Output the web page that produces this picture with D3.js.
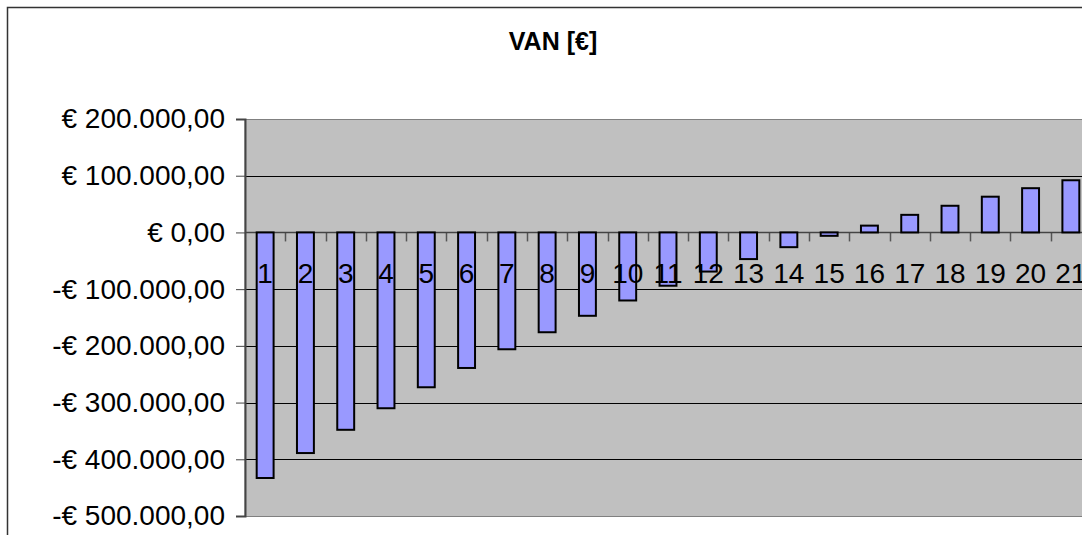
<!DOCTYPE html>
<html>
<head>
<meta charset="utf-8">
<script src="https://cdn.jsdelivr.net/npm/d3@7"></script>
<style>
  body { margin: 0; background: #fff; }
  svg { display: block; }
</style>
</head>
<body>
<script>
var width = 1082;
var height = 535;

// data
var years = ["1","2","3","4","5","6","7","8","9","10","11","12","13","14","15","16","17","18","19","20","21"];
var van = [-433000, -389000, -348000, -310000, -273000, -239000, -206000, -176000, -147000, -120000,
           -94000, -69000, -47000, -26000, -6000, 12000, 31000, 47000, 63000, 78000, 92000];
var yTicks = [200000, 100000, 0, -100000, -200000, -300000, -400000, -500000];

var plot = {left: 245, top: 119, right: 1091, bottom: 516};

var svg = d3.select("body").append("svg")
    .attr("width", width)
    .attr("height", height);

// chart area border (cut off on right and bottom)
svg.append("rect")
    .attr("x", 7.5).attr("y", 7.5)
    .attr("width", 1200).attr("height", 700)
    .attr("fill", "#fff")
    .attr("stroke", "#333")
    .attr("stroke-width", 1.5);

svg.append("text")
    .attr("x", 553)
    .attr("y", 50)
    .attr("text-anchor", "middle")
    .style("font-family", "'Liberation Sans', Arial, sans-serif")
    .style("font-weight", "bold")
    .style("font-size", "25px")
    .text("VAN [€]");

var x = d3.scaleBand()
    .domain(years)
    .range([plot.left, plot.right])
    .paddingInner(0.58)
    .paddingOuter(0.29);

var xTicks = d3.scaleBand()
    .domain(years)
    .range([plot.left, plot.right]);

var y = d3.scaleLinear()
    .domain([-500000, 200000])
    .range([plot.bottom, plot.top]);

function euro(v) {
  var s = d3.format(",.2f")(Math.abs(v)).replace(/,/g, "X").replace(".", ",").replace(/X/g, ".");
  return (v < 0 ? "-€ " : "€ ") + s;
}

// plot area
svg.append("rect")
    .attr("x", plot.left).attr("y", plot.top + 0.5)
    .attr("width", plot.right - plot.left + 20)
    .attr("height", plot.bottom - plot.top)
    .attr("fill", "#c0c0c0")
    .attr("stroke", "#808080")
    .attr("stroke-width", 1);

// gridlines
svg.append("g")
  .selectAll("line")
  .data(yTicks.slice(1, -1))
  .join("line")
    .attr("x1", plot.left).attr("x2", width)
    .attr("y1", function(d) { return Math.round(y(d)) + 0.5; })
    .attr("y2", function(d) { return Math.round(y(d)) + 0.5; })
    .attr("stroke", "#000")
    .attr("stroke-width", 1);

// y axis
var yAxis = d3.axisLeft(y)
    .tickValues(yTicks)
    .tickSize(9)
    .tickPadding(11)
    .tickFormat(euro);

var gy = svg.append("g")
    .attr("transform", "translate(" + plot.left + ",0)")
    .call(yAxis);
gy.select(".domain").attr("stroke", "#444").attr("stroke-width", 2);
gy.selectAll(".tick line").attr("stroke", "#444");
gy.selectAll(".tick text")
    .attr("fill", "#000")
    .style("font-family", "'Liberation Sans', Arial, sans-serif")
    .style("font-size", "28px");

// x category ticks on zero line
svg.append("g")
  .selectAll("line")
  .data(years.slice(1))
  .join("line")
    .attr("x1", function(d) { return Math.round(xTicks(d)) + 0.5; })
    .attr("x2", function(d) { return Math.round(xTicks(d)) + 0.5; })
    .attr("y1", y(0))
    .attr("y2", y(0) + 9)
    .attr("stroke", "#555")
    .attr("stroke-width", 1.5);

svg.append("line")
    .attr("x1", plot.left).attr("x2", width)
    .attr("y1", y(0)).attr("y2", y(0))
    .attr("stroke", "#444")
    .attr("stroke-width", 1.5);

// bars
svg.append("g")
  .selectAll("rect")
  .data(van)
  .join("rect")
    .attr("x", function(d, i) { return x(years[i]); })
    .attr("width", x.bandwidth())
    .attr("y", function(d) { return y(Math.max(0, d)); })
    .attr("height", function(d) { return Math.abs(y(d) - y(0)); })
    .attr("fill", "#9999ff")
    .attr("stroke", "#000")
    .attr("stroke-width", 2);

// category labels
svg.append("g")
  .selectAll("text")
  .data(years)
  .join("text")
    .attr("x", function(d) { return xTicks(d) + xTicks.bandwidth() / 2; })
    .attr("y", y(0) + 51)
    .attr("text-anchor", "middle")
    .style("font-family", "'Liberation Sans', Arial, sans-serif")
    .style("font-size", "28px")
    .attr("fill", "#000")
    .text(function(d) { return d; });
</script>
</body>
</html>
